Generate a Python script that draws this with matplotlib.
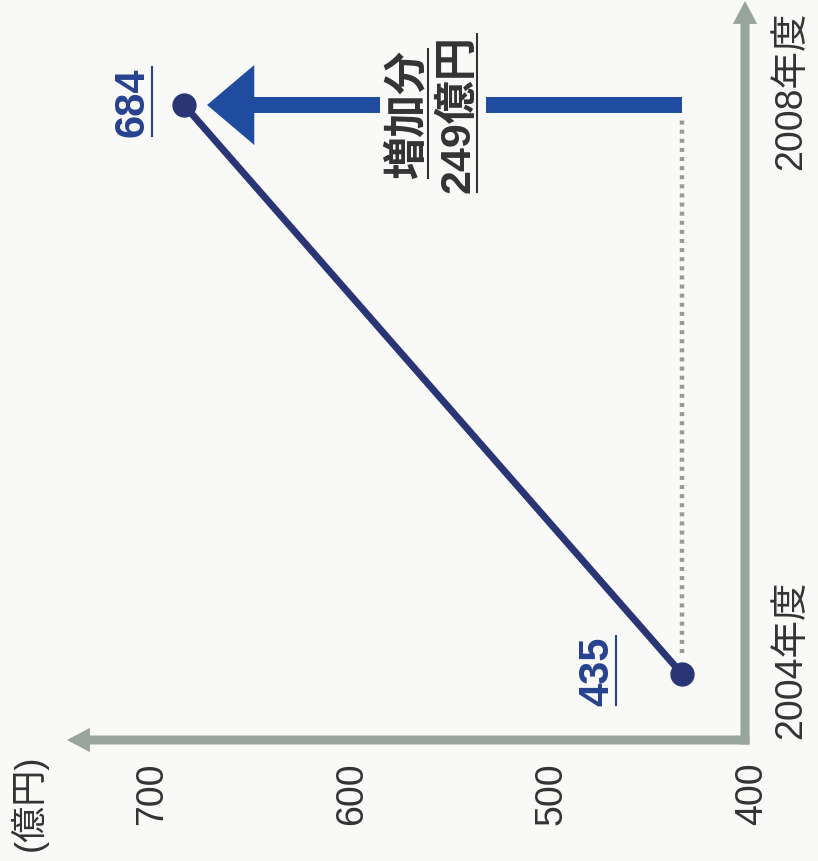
import matplotlib
matplotlib.use("Agg")
import matplotlib.pyplot as plt
import matplotlib.transforms as mtransforms
from matplotlib.patches import FancyArrowPatch, Rectangle
from matplotlib.lines import Line2D

# 数字はLiberation Sans、漢字はNoto Sans CJK JP
plt.rcParams['font.family'] = ['Liberation Sans', 'Noto Sans CJK JP', 'DejaVu Sans']

# データ
years = [2004, 2008]
year_labels = ['2004年度', '2008年度']
values = [435, 684]
value_labels = ['435', '684']
label_dx = [-61, -37]   # 値ラベルのずらし(pt)
ticks = [400, 500, 600, 700]
tick_labels = ['400', '500', '600', '700']
unit_label = '(億円)'
diff_title = '増加分'
diff_label = '249億円'

BG = '#f9f9f7'
GRAY = '#9aa49e'
NAVY = '#2a3575'
BLUE = '#1f4c9e'
LABEL_BLUE = '#26418f'
TEXT = '#333333'

W, H = 818, 862
fig = plt.figure(figsize=(W / 100, H / 100), dpi=100, facecolor=BG)
ax = fig.add_axes([0, 0, 1, 1])
ax.set_facecolor(BG)
ax.axis('off')
# 図は90度回転: 値は左へ増える、年度は上へ
ax.set_xlim(776, 367)
ax.set_ylim(2002.685, 2008.745)

# 軸(L字の矢印)
cx, cy = 745 / W, 1 - 741 / H
arrow_kw = dict(arrowstyle='simple,head_length=16.5,head_width=17.5,tail_width=6.5',
                mutation_scale=1, color=GRAY, lw=0, shrinkA=0, shrinkB=0,
                transform=ax.transAxes)
ax.add_patch(FancyArrowPatch((cx, cy - 4.5 / H), (cx, 1 - 2 / H), **arrow_kw))
ax.add_patch(FancyArrowPatch((cx + 4.5 / W, cy), (67 / W, cy), **arrow_kw))

# 点線(2004年度の水準)
ax.plot([values[0], values[0]], [years[0] + 0.15, years[1] - 0.08],
        color='#999999', lw=3.2, dashes=(0.9, 1.15), dash_capstyle='butt', zorder=2)

# 折れ線
ax.plot(values, years, color=NAVY, lw=5, marker='o', ms=16.5, zorder=4)

# 増加分の矢印
ax.add_patch(FancyArrowPatch((values[0], years[1]), (values[1], years[1]),
                             arrowstyle='simple,head_length=34,head_width=57.6,tail_width=11.5',
                             mutation_scale=1, color=BLUE, lw=0, shrinkA=0, shrinkB=16.6,
                             zorder=3))
mid = sum(values) / 2
ax.add_patch(Rectangle((mid - 26.5, years[1] - 0.15), 53, 0.3, facecolor=BG, lw=0, zorder=3.5))

t1 = ax.annotate(diff_title, (mid, years[1]), xytext=(-18, -6), textcoords='offset points',
                 rotation=90, ha='center', va='center', fontsize=31, fontweight='bold',
                 color=TEXT, zorder=5)
t2 = ax.annotate(diff_label, (mid, years[1]), xytext=(18, -6), textcoords='offset points',
                 rotation=90, ha='center', va='center', fontsize=31, fontweight='bold',
                 color=TEXT, zorder=5)

# 値ラベル
vlabs = []
for v, yr, lab, dx in zip(values, years, value_labels, label_dx):
    t = ax.annotate(lab, (v, yr), xytext=(dx, 2.5), textcoords='offset points',
                    rotation=90, ha='center', va='center', fontsize=30,
                    fontweight='bold', color=LABEL_BLUE, zorder=5)
    vlabs.append(t)

# 目盛りラベル
bt = mtransforms.blended_transform_factory(ax.transData, ax.transAxes)
for v, lab in zip(ticks, tick_labels):
    ax.text(v, 68 / H, lab, transform=bt, rotation=90, ha='center', va='center',
            fontsize=27, color=TEXT)

yt = mtransforms.blended_transform_factory(ax.transAxes, ax.transData)
for yr, lab in zip(years, year_labels):
    ax.annotate(lab, (791 / W, yr), xycoords=yt, xytext=(0, 11), textcoords='offset points',
                rotation=90, ha='center', va='center', fontsize=27, color=TEXT)

ax.text(29 / W, 59 / H, unit_label, transform=ax.transAxes, rotation=90,
        ha='center', va='center', fontsize=26, color=TEXT)

# 下線
fig.canvas.draw()
renderer = fig.canvas.get_renderer()
inv = fig.transFigure.inverted()
for t, col in [(t1, TEXT), (t2, TEXT), (vlabs[0], LABEL_BLUE), (vlabs[1], LABEL_BLUE)]:
    bb = t.get_window_extent(renderer)
    x = bb.x1 - 1
    (x0, y0), (x1, y1) = inv.transform([(x, bb.y0), (x, bb.y1)])
    fig.add_artist(Line2D([x0, x1], [y0, y1], color=col, lw=1.5))

fig.savefig('out.png', dpi=100, facecolor=BG)
